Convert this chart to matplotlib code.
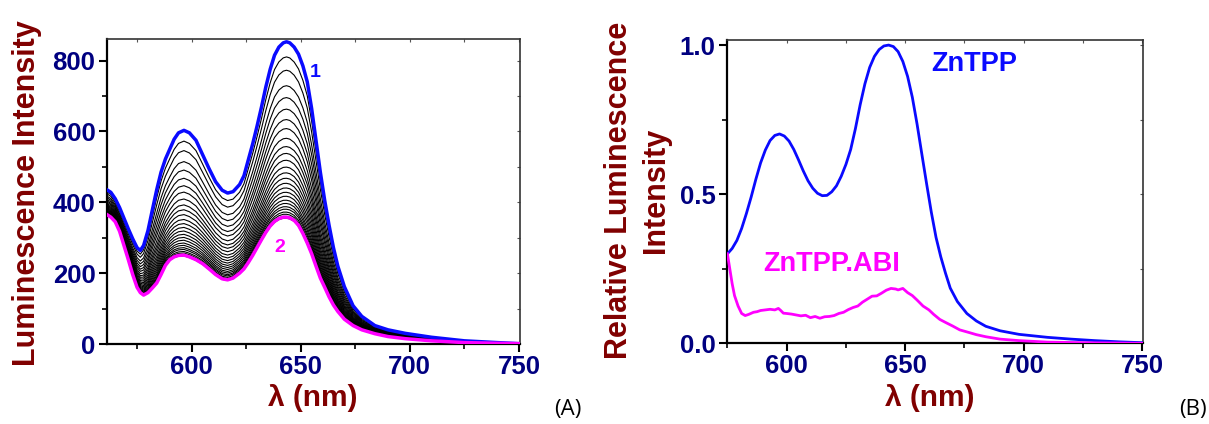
import numpy as np
import matplotlib
matplotlib.use("Agg")
import matplotlib.pyplot as plt
from matplotlib.ticker import MultipleLocator, FormatStrFormatter

plt.rcParams['font.family'] = ['Liberation Sans', 'DejaVu Sans']

# ---------------- Panel A data ----------------
lam_a = [561, 563, 565, 567, 569, 571, 573, 575, 576.5, 578, 580, 582, 584, 586, 588,
         590, 592, 594, 596.5, 599, 602, 605, 608, 611, 614, 616.5, 619, 622, 624, 626,
         628, 630, 632, 634, 636, 638, 640, 642, 643.5, 645, 647, 649, 651, 653, 655,
         657, 659, 661, 663, 665, 667, 670, 674, 678, 684, 690, 698, 710, 725, 740, 750]
curve1_a = [436, 428, 410, 385, 355, 325, 297, 272, 264, 278, 320, 378, 435, 485, 522,
            550, 578, 596, 603, 596, 575, 535, 495, 458, 434, 426, 430, 450, 475, 520,
            565, 615, 668, 725, 775, 815, 838, 850, 853, 850, 838, 818, 785, 740, 665,
            575, 485, 405, 335, 272, 220, 162, 108, 78, 52, 40, 30, 19, 9, 4, 1]
curve2_a = [366, 358, 345, 318, 278, 238, 196, 160, 145, 138, 145, 158, 172, 196, 222,
            238, 246, 250, 251, 246, 238, 227, 212, 196, 184, 181, 186, 200, 212, 230,
            250, 272, 294, 315, 333, 346, 354, 358, 358, 356, 349, 335, 312, 285, 255,
            220, 186, 160, 133, 110, 92, 70, 52, 40, 29, 21, 15, 9, 4, 2, 1]
# peak intensity (at ~644 nm) of each intermediate titration spectrum
black_peaks = [811, 774, 731, 698, 666, 637, 612, 585, 562, 543, 524, 505, 489, 474,
               460, 447, 435, 424, 413, 404, 395, 388, 380, 374, 368, 363]

# ---------------- Panel B data ----------------
lam_b_blue = [575, 577, 579, 581, 583, 585, 587, 589, 591, 593, 595, 597, 599, 601, 603,
              605, 607, 609, 611, 613, 615, 617, 619, 621, 623, 625, 627, 629, 631, 633,
              635, 637, 639, 641, 643, 645, 647, 649, 651, 653, 655, 657, 659, 661, 663,
              665, 667, 669, 672, 676, 680, 684, 690, 698, 710, 720, 730, 740, 750]
znTPP_b = [0.300, 0.318, 0.345, 0.385, 0.435, 0.490, 0.550, 0.605, 0.648, 0.680, 0.697,
           0.702, 0.695, 0.678, 0.650, 0.615, 0.578, 0.545, 0.520, 0.503, 0.495, 0.496,
           0.508, 0.528, 0.560, 0.600, 0.650, 0.720, 0.800, 0.870, 0.925, 0.962, 0.985,
           0.997, 1.000, 0.995, 0.978, 0.945, 0.895, 0.825, 0.735, 0.635, 0.536, 0.440,
           0.355, 0.290, 0.235, 0.185, 0.140, 0.100, 0.075, 0.057, 0.042, 0.030, 0.020,
           0.014, 0.009, 0.005, 0.002]
lam_b_pink = [575, 576, 577, 578, 579.5, 581, 582.5, 584, 586, 587.5, 589, 591, 593,
              595, 596.5, 597.5, 598.6, 600, 602, 604, 606, 608, 610, 612, 614, 616,
              618, 620, 622, 624, 626, 628, 630, 632, 634, 636, 638, 640, 642, 644, 646,
              647, 649, 651, 653, 655, 657.5, 660, 662, 664.6, 667, 670, 673, 677, 680,
              684, 690, 698, 710, 725, 750]
abi_b = [0.30, 0.25, 0.20, 0.16, 0.125, 0.10, 0.093, 0.097, 0.104, 0.106, 0.110, 0.112,
         0.114, 0.112, 0.117, 0.110, 0.101, 0.100, 0.098, 0.095, 0.092, 0.094, 0.086,
         0.090, 0.084, 0.089, 0.090, 0.093, 0.100, 0.104, 0.113, 0.120, 0.125, 0.138,
         0.148, 0.158, 0.159, 0.168, 0.178, 0.184, 0.182, 0.179, 0.184, 0.170, 0.160,
         0.145, 0.125, 0.112, 0.097, 0.080, 0.070, 0.058, 0.045, 0.036, 0.029, 0.022,
         0.014, 0.009, 0.004, 0.002, 0.0]

BLUE = '#0a0aff'
MAG = '#ff00ff'
NAVY = '#000080'
DRED = '#800000'

W, H = 1209, 424
fig = plt.figure(figsize=(W / 100, H / 100), dpi=100)

def px_axes(l, r, t, b):
    return fig.add_axes([l / W, 1 - b / H, (r - l) / W, (b - t) / H])

def style(ax, ymaj, ymin):
    for s in ['left', 'bottom']:
        ax.spines[s].set_linewidth(1.6)
        ax.spines[s].set_color('black')
    for s in ['top', 'right']:
        ax.spines[s].set_linewidth(1.2)
        ax.spines[s].set_color('#333333')
    ax.xaxis.set_major_locator(MultipleLocator(50))
    ax.xaxis.set_minor_locator(MultipleLocator(25))
    ax.yaxis.set_major_locator(MultipleLocator(ymaj))
    ax.yaxis.set_minor_locator(MultipleLocator(ymin))
    ax.tick_params(which='major', direction='out', length=6, width=1.5,
                   labelsize=18.5, labelcolor=NAVY, pad=2)
    ax.tick_params(which='minor', direction='out', length=3.5, width=1.2)
    for lab in ax.get_xticklabels() + ax.get_yticklabels():
        lab.set_fontweight('bold')
    sx = ax.secondary_xaxis('top')
    sx.xaxis.set_major_locator(MultipleLocator(50))
    sx.xaxis.set_minor_locator(MultipleLocator(25))
    sx.tick_params(which='both', direction='in', length=2.5, width=0.8,
                   labeltop=False, colors='#555555')
    sx.spines['top'].set_visible(False)
    sy = ax.secondary_yaxis('right')
    sy.yaxis.set_major_locator(MultipleLocator(ymaj))
    sy.yaxis.set_minor_locator(MultipleLocator(ymin))
    sy.tick_params(which='both', direction='in', length=2.5, width=0.8,
                   labelright=False, colors='#555555')
    sy.spines['right'].set_visible(False)

# ---------------- Panel A ----------------
axA = px_axes(106.5, 520, 39.3, 344)
lam = np.array(lam_a, dtype=float)
c1 = np.array(curve1_a, dtype=float)
c2 = np.array(curve2_a, dtype=float)
p1, p2 = max(curve1_a), max(curve2_a)
for pk in black_peaks:
    f = (pk - p2) / (p1 - p2)
    axA.plot(lam, c2 + f * (c1 - c2), color='black', lw=0.8, zorder=2)
axA.plot(lam, c1, color=BLUE, lw=2.5, zorder=3, solid_joinstyle='round')
axA.plot(lam, c2, color=MAG, lw=2.5, zorder=3, solid_joinstyle='round')
axA.set_xlim(561, 750.5)
axA.set_ylim(0, 860)
style(axA, 200, 100)
axA.text(656.5, 767, '1', color=BLUE, fontsize=14, fontweight='bold', ha='center', va='center')
axA.text(640.5, 272, '2', color=MAG, fontsize=14, fontweight='bold', ha='center', va='center')

# ---------------- Panel B ----------------
axB = px_axes(726.7, 1143, 40, 343.3)
axB.plot(lam_b_blue, znTPP_b, color=BLUE, lw=2.0, zorder=3, solid_joinstyle='round')
axB.plot(lam_b_pink, abi_b, color=MAG, lw=2.0, zorder=3, solid_joinstyle='round')
axB.set_xlim(574.7, 750.3)
axB.set_ylim(0, 1.017)
axB.yaxis.set_major_formatter(FormatStrFormatter('%.1f'))
style(axB, 0.5, 0.25)
axB.text(679.2, 0.938, 'ZnTPP', color=BLUE, fontsize=19.5, fontweight='bold',
         ha='center', va='center')
axB.text(619, 0.266, 'ZnTPP.ABI', color=MAG, fontsize=19.5, fontweight='bold',
         ha='center', va='center')

# ---------------- axis labels (pixel placed) ----------------
def ftxt(x, y, s, **kw):
    fig.text(x / W, 1 - y / H, s, **kw)

ftxt(27.5, 193, 'Luminescence Intensity', rotation=90, ha='center', va='center',
     color=DRED, fontsize=22, fontweight='bold')
ftxt(313, 398, 'λ (nm)', ha='center', va='center', color=DRED, fontsize=21.5,
     fontweight='bold')
ftxt(637.5, 190, 'Relative Luminescence\nIntensity', rotation=90, ha='center',
     va='center', color=DRED, fontsize=22, fontweight='bold', linespacing=1.3,
     multialignment='center')
ftxt(930, 398, 'λ (nm)', ha='center', va='center', color=DRED, fontsize=21.5,
     fontweight='bold')
ftxt(568, 409, '(A)', ha='center', va='center', color='black', fontsize=16,
     family=['Open Sans', 'DejaVu Sans'])
ftxt(1193, 409, '(B)', ha='center', va='center', color='black', fontsize=16,
     family=['Open Sans', 'DejaVu Sans'])

fig.savefig('out.png', dpi=100)
